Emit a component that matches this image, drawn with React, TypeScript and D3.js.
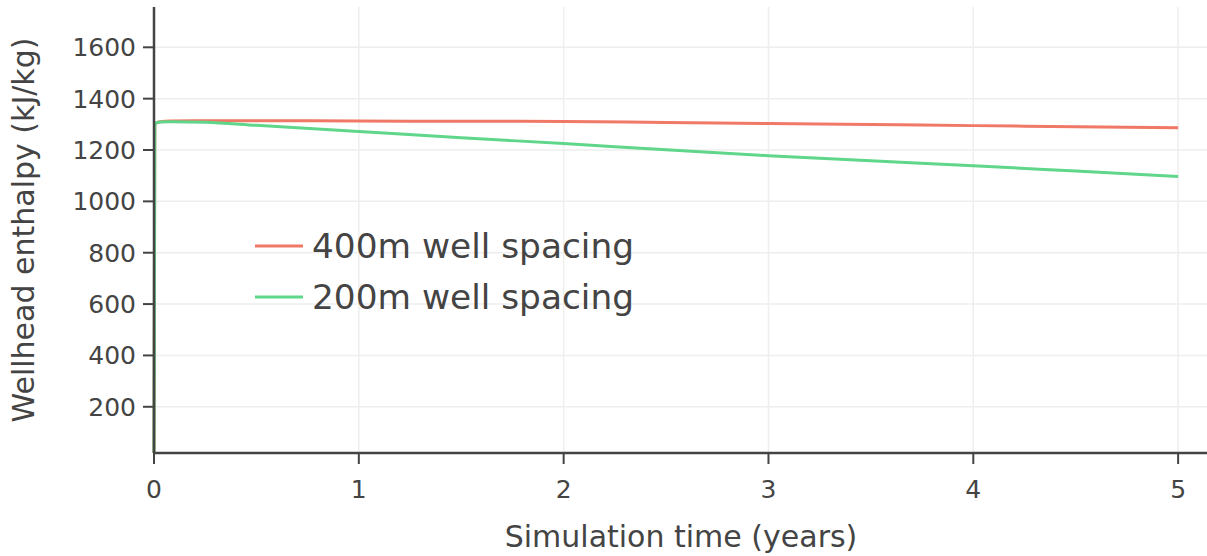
import React from "react";
import * as d3 from "d3";

const years = [0, 0.004, 0.03, 0.08, 0.25, 0.5, 1, 1.5, 2, 2.5, 3, 3.5, 4, 4.5, 5];
const spacing400 = [20, 1302, 1310, 1313, 1314, 1314, 1313, 1312, 1311, 1307, 1303, 1299, 1295, 1291, 1287];
const spacing200 = [20, 1302, 1309, 1310, 1308, 1296, 1272, 1248, 1225, 1201, 1178, 1158, 1139, 1118, 1097];
const xTicks = [0, 1, 2, 3, 4, 5];
const yTicks = [200, 400, 600, 800, 1000, 1200, 1400, 1600];
const seriesNames = ["400m well spacing", "200m well spacing"];
const seriesColors = ["#ef7866", "#5fd68a"];

const W = 1207, H = 556;
const left = 154, right = 1207, top = 7, bottom = 453;
const FONT = "'DejaVu Sans', Verdana, sans-serif";

export default function App() {
  const x = d3.scaleLinear().domain([0, 5.141]).range([left, right]);
  const y = d3.scaleLinear().domain([20, 1757]).range([bottom, top]);
  const line = d3.line<number>().x((_, i) => x(years[i])).y((d) => y(d)).curve(d3.curveMonotoneX);
  const series = [spacing400, spacing200];
  const axisColor = "#444";
  const textColor = "#444";
  return (
    <svg width={W} height={H} style={{ position: "absolute", left: 0, top: 0, background: "#fff" }}>
      {xTicks.slice(1).map((t) => (
        <line key={"gx" + t} x1={x(t)} x2={x(t)} y1={top} y2={bottom} stroke="#eee" strokeWidth={1.5} />
      ))}
      {yTicks.map((t) => (
        <line key={"gy" + t} x1={left} x2={right} y1={y(t)} y2={y(t)} stroke="#eee" strokeWidth={1.5} />
      ))}
      {series.map((s, i) => (
        <path key={i} d={line(s) || ""} fill="none" stroke={seriesColors[i]} strokeWidth={3} />
      ))}
      <line x1={left} x2={left} y1={top} y2={bottom} stroke={axisColor} strokeWidth={2.5} />
      <line x1={left - 1} x2={right} y1={bottom} y2={bottom} stroke={axisColor} strokeWidth={2.5} />
      {yTicks.map((t) => (
        <g key={"ty" + t}>
          <line x1={left - 11} x2={left} y1={y(t)} y2={y(t)} stroke={axisColor} strokeWidth={2} />
          <text x={136} y={y(t)} dy="0.36em" textAnchor="end" fontFamily={FONT} fontSize={25} fill={textColor}>
            {t}
          </text>
        </g>
      ))}
      {xTicks.map((t) => (
        <g key={"tx" + t}>
          <line x1={x(t)} x2={x(t)} y1={bottom} y2={bottom + 11} stroke={axisColor} strokeWidth={2} />
          <text x={x(t)} y={498} textAnchor="middle" fontFamily={FONT} fontSize={25} fill={textColor}>
            {t}
          </text>
        </g>
      ))}
      <text x={681} y={547} textAnchor="middle" fontFamily={FONT} fontSize={30} fill={textColor}>
        Simulation time (years)
      </text>
      <text
        transform={`translate(34, 230) rotate(-90)`}
        textAnchor="middle"
        fontFamily={FONT}
        fontSize={30}
        fill={textColor}
      >
        Wellhead enthalpy (kJ/kg)
      </text>
      {seriesNames.map((n, i) => (
        <g key={n} transform={`translate(255, ${246 + i * 51})`}>
          <line x1={0} x2={48} y1={0} y2={0} stroke={seriesColors[i]} strokeWidth={3} />
          <text x={57} y={12} fontFamily={FONT} fontSize={33} fill={textColor} textLength={322} lengthAdjust="spacingAndGlyphs">
            {n}
          </text>
        </g>
      ))}
    </svg>
  );
}
